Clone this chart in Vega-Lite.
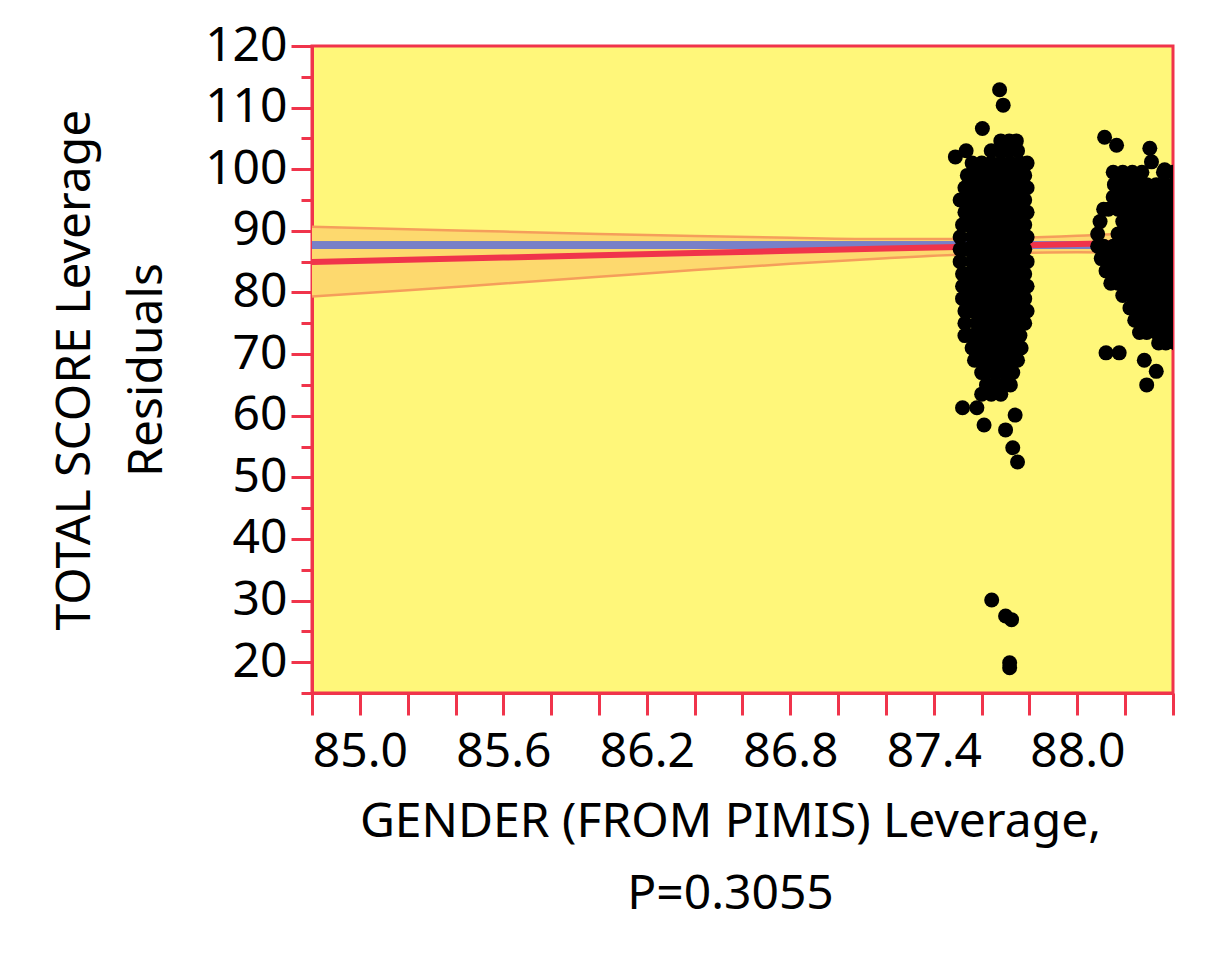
{
  "$schema": "https://vega.github.io/schema/vega-lite/v6.json",
  "width": 861,
  "height": 647,
  "autosize": {"type": "none"},
  "padding": {"left": 312, "top": 46, "right": 41, "bottom": 266},
  "background": "#ffffff",
  "datasets": {
    "band": [
      {"x": 84.8, "fit": 84.95, "lo": 79.35, "hi": 90.65},
      {"x": 85.2, "fit": 85.31, "lo": 80.36, "hi": 90.26},
      {"x": 85.6, "fit": 85.67, "lo": 81.46, "hi": 89.88},
      {"x": 86.0, "fit": 86.03, "lo": 82.55, "hi": 89.51},
      {"x": 86.4, "fit": 86.40, "lo": 83.63, "hi": 89.17},
      {"x": 86.8, "fit": 86.76, "lo": 84.65, "hi": 88.87},
      {"x": 87.2, "fit": 87.12, "lo": 85.57, "hi": 88.67},
      {"x": 87.5, "fit": 87.40, "lo": 86.13, "hi": 88.67},
      {"x": 87.7, "fit": 87.58, "lo": 86.37, "hi": 88.79},
      {"x": 88.0, "fit": 87.85, "lo": 86.51, "hi": 89.19},
      {"x": 88.4, "fit": 88.21, "lo": 86.40, "hi": 90.02}
    ],
    "pts": [
      {"x":87.675,"y":112.9},{"x":87.69,"y":110.4},{"x":87.603,"y":106.6},
      {"x":87.68,"y":104.6},{"x":87.715,"y":104.6},{"x":87.745,"y":104.6},
      {"x":87.535,"y":103},{"x":87.64,"y":103},{"x":87.675,"y":103},{"x":87.71,"y":103},{"x":87.75,"y":103},
      {"x":87.49,"y":102},
      {"x":87.56,"y":101},{"x":87.60,"y":101},{"x":87.64,"y":101},{"x":87.68,"y":101},{"x":87.72,"y":101},{"x":87.76,"y":101},{"x":87.79,"y":101},
      {"x":87.54,"y":99},{"x":87.58,"y":99},{"x":87.62,"y":99},{"x":87.66,"y":99},{"x":87.70,"y":99},{"x":87.74,"y":99},{"x":87.78,"y":99},
      {"x":87.53,"y":97},{"x":87.56,"y":97},{"x":87.60,"y":97},{"x":87.64,"y":97},{"x":87.68,"y":97},{"x":87.72,"y":97},{"x":87.76,"y":97},{"x":87.79,"y":97},
      {"x":87.51,"y":95},{"x":87.54,"y":95},{"x":87.58,"y":95},{"x":87.62,"y":95},{"x":87.66,"y":95},{"x":87.70,"y":95},{"x":87.74,"y":95},{"x":87.78,"y":95},
      {"x":87.53,"y":93},{"x":87.56,"y":93},{"x":87.60,"y":93},{"x":87.64,"y":93},{"x":87.68,"y":93},{"x":87.72,"y":93},{"x":87.76,"y":93},{"x":87.79,"y":93},
      {"x":87.52,"y":91},{"x":87.54,"y":91},{"x":87.58,"y":91},{"x":87.62,"y":91},{"x":87.66,"y":91},{"x":87.70,"y":91},{"x":87.74,"y":91},{"x":87.78,"y":91},
      {"x":87.51,"y":89},{"x":87.56,"y":89},{"x":87.60,"y":89},{"x":87.64,"y":89},{"x":87.68,"y":89},{"x":87.72,"y":89},{"x":87.76,"y":89},{"x":87.79,"y":89},
      {"x":87.51,"y":87},{"x":87.54,"y":87},{"x":87.58,"y":87},{"x":87.62,"y":87},{"x":87.66,"y":87},{"x":87.70,"y":87},{"x":87.74,"y":87},{"x":87.78,"y":87},
      {"x":87.51,"y":85},{"x":87.56,"y":85},{"x":87.60,"y":85},{"x":87.64,"y":85},{"x":87.68,"y":85},{"x":87.72,"y":85},{"x":87.76,"y":85},{"x":87.79,"y":85},
      {"x":87.52,"y":83},{"x":87.54,"y":83},{"x":87.58,"y":83},{"x":87.62,"y":83},{"x":87.66,"y":83},{"x":87.70,"y":83},{"x":87.74,"y":83},{"x":87.78,"y":83},
      {"x":87.52,"y":81},{"x":87.56,"y":81},{"x":87.60,"y":81},{"x":87.64,"y":81},{"x":87.68,"y":81},{"x":87.72,"y":81},{"x":87.76,"y":81},{"x":87.79,"y":81},
      {"x":87.52,"y":79},{"x":87.54,"y":79},{"x":87.58,"y":79},{"x":87.62,"y":79},{"x":87.66,"y":79},{"x":87.70,"y":79},{"x":87.74,"y":79},{"x":87.78,"y":79},
      {"x":87.53,"y":77},{"x":87.56,"y":77},{"x":87.60,"y":77},{"x":87.64,"y":77},{"x":87.68,"y":77},{"x":87.72,"y":77},{"x":87.76,"y":77},{"x":87.79,"y":77},
      {"x":87.53,"y":75},{"x":87.58,"y":75},{"x":87.62,"y":75},{"x":87.66,"y":75},{"x":87.70,"y":75},{"x":87.74,"y":75},{"x":87.78,"y":75},
      {"x":87.53,"y":73},{"x":87.56,"y":73},{"x":87.60,"y":73},{"x":87.64,"y":73},{"x":87.68,"y":73},{"x":87.72,"y":73},{"x":87.76,"y":73},
      {"x":87.56,"y":71},{"x":87.58,"y":71},{"x":87.62,"y":71},{"x":87.66,"y":71},{"x":87.70,"y":71},{"x":87.74,"y":71},{"x":87.765,"y":71},
      {"x":87.57,"y":69},{"x":87.60,"y":69},{"x":87.64,"y":69},{"x":87.68,"y":69},{"x":87.72,"y":69},{"x":87.75,"y":69},
      {"x":87.60,"y":67},{"x":87.62,"y":67},{"x":87.66,"y":67},{"x":87.70,"y":67},{"x":87.73,"y":67},
      {"x":87.62,"y":65},{"x":87.65,"y":65},{"x":87.69,"y":65},{"x":87.72,"y":65},
      {"x":87.60,"y":63.5},{"x":87.64,"y":63.5},{"x":87.68,"y":63.5},
      {"x":87.52,"y":61.3},{"x":87.58,"y":61.3},
      {"x":87.74,"y":60.1},{"x":87.61,"y":58.5},{"x":87.70,"y":57.7},{"x":87.73,"y":54.8},{"x":87.75,"y":52.5},
      {"x":87.642,"y":30.1},{"x":87.70,"y":27.5},{"x":87.725,"y":26.9},{"x":87.717,"y":19.9},{"x":87.717,"y":19.1},
      {"x":88.114,"y":105.2},{"x":88.164,"y":103.9},{"x":88.303,"y":103.4},{"x":88.31,"y":101.2},{"x":88.365,"y":99.9},
      {"x":88.15,"y":99.5},{"x":88.19,"y":99.5},{"x":88.23,"y":99.5},{"x":88.27,"y":99.5},{"x":88.36,"y":99.5},{"x":88.40,"y":99.5},
      {"x":88.155,"y":97.5},{"x":88.17,"y":97.5},{"x":88.21,"y":97.5},{"x":88.25,"y":97.5},{"x":88.29,"y":97.5},{"x":88.33,"y":97.5},{"x":88.37,"y":97.5},{"x":88.41,"y":97.5},
      {"x":88.15,"y":95.5},{"x":88.19,"y":95.5},{"x":88.23,"y":95.5},{"x":88.27,"y":95.5},{"x":88.31,"y":95.5},{"x":88.35,"y":95.5},{"x":88.39,"y":95.5},{"x":88.43,"y":95.5},
      {"x":88.11,"y":93.5},{"x":88.13,"y":93.5},{"x":88.17,"y":93.5},{"x":88.21,"y":93.5},{"x":88.25,"y":93.5},{"x":88.29,"y":93.5},{"x":88.33,"y":93.5},{"x":88.37,"y":93.5},{"x":88.41,"y":93.5},
      {"x":88.095,"y":91.5},{"x":88.19,"y":91.5},{"x":88.23,"y":91.5},{"x":88.27,"y":91.5},{"x":88.31,"y":91.5},{"x":88.35,"y":91.5},{"x":88.39,"y":91.5},{"x":88.43,"y":91.5},
      {"x":88.085,"y":89.5},{"x":88.17,"y":89.5},{"x":88.21,"y":89.5},{"x":88.25,"y":89.5},{"x":88.29,"y":89.5},{"x":88.33,"y":89.5},{"x":88.37,"y":89.5},{"x":88.41,"y":89.5},
      {"x":88.085,"y":87.5},{"x":88.11,"y":87.5},{"x":88.15,"y":87.5},{"x":88.19,"y":87.5},{"x":88.23,"y":87.5},{"x":88.27,"y":87.5},{"x":88.31,"y":87.5},{"x":88.35,"y":87.5},{"x":88.39,"y":87.5},{"x":88.43,"y":87.5},
      {"x":88.10,"y":85.5},{"x":88.13,"y":85.5},{"x":88.17,"y":85.5},{"x":88.21,"y":85.5},{"x":88.25,"y":85.5},{"x":88.29,"y":85.5},{"x":88.33,"y":85.5},{"x":88.37,"y":85.5},{"x":88.41,"y":85.5},
      {"x":88.12,"y":83.5},{"x":88.15,"y":83.5},{"x":88.19,"y":83.5},{"x":88.23,"y":83.5},{"x":88.27,"y":83.5},{"x":88.31,"y":83.5},{"x":88.35,"y":83.5},{"x":88.39,"y":83.5},{"x":88.43,"y":83.5},
      {"x":88.14,"y":81.5},{"x":88.17,"y":81.5},{"x":88.21,"y":81.5},{"x":88.25,"y":81.5},{"x":88.29,"y":81.5},{"x":88.33,"y":81.5},{"x":88.37,"y":81.5},{"x":88.41,"y":81.5},
      {"x":88.19,"y":79.5},{"x":88.23,"y":79.5},{"x":88.27,"y":79.5},{"x":88.31,"y":79.5},{"x":88.35,"y":79.5},{"x":88.39,"y":79.5},{"x":88.43,"y":79.5},
      {"x":88.22,"y":77.5},{"x":88.25,"y":77.5},{"x":88.29,"y":77.5},{"x":88.33,"y":77.5},{"x":88.37,"y":77.5},{"x":88.41,"y":77.5},
      {"x":88.24,"y":75.5},{"x":88.27,"y":75.5},{"x":88.31,"y":75.5},{"x":88.35,"y":75.5},{"x":88.39,"y":75.5},{"x":88.43,"y":75.5},
      {"x":88.26,"y":73.5},{"x":88.29,"y":73.5},{"x":88.33,"y":73.5},{"x":88.37,"y":73.5},{"x":88.41,"y":73.5},
      {"x":88.34,"y":71.8},{"x":88.37,"y":71.8},{"x":88.41,"y":71.8},
      {"x":88.12,"y":70.2},{"x":88.175,"y":70.2},
      {"x":88.28,"y":69},{"x":88.33,"y":67.2},{"x":88.29,"y":65}
    ]
  },
  "resolve": {"axis": {"y": "independent"}},
  "layer": [
    {
      "data": {"name": "band"},
      "mark": {"type": "area", "color": "#fdd96e", "interpolate": "monotone"},
      "encoding": {
        "x": {
          "field": "x", "type": "quantitative",
          "scale": {"domain": [84.8, 88.4], "nice": false, "zero": false},
          "axis": {
            "title": ["GENDER (FROM PIMIS) Leverage,", "P=0.3055"],
            "values": [84.8,84.9,85.0,85.1,85.2,85.3,85.4,85.5,85.6,85.7,85.8,85.9,86.0,86.1,86.2,86.3,86.4,86.5,86.6,86.7,86.8,86.9,87.0,87.1,87.2,87.3,87.4,87.5,87.6,87.7,87.8,87.9,88.0,88.1,88.2,88.3,88.4],
            "labelExpr": "round(datum.value*10) % 6 == 4 ? format(datum.value, '.1f') : ''",
            "tickSize": {"condition": {"test": "round(datum.value*10) % 2 == 0", "value": 22}, "value": 12},
            "labelPadding": 13,
            "titlePadding": 22,
            "titleX": 418,
            "titleLineHeight": 72
          }
        },
        "y": {
          "field": "lo", "type": "quantitative",
          "scale": {"domain": [15, 120], "nice": false, "zero": false},
          "axis": {
            "title": ["TOTAL SCORE Leverage", "Residuals"],
            "orient": "left",
            "values": [20,30,40,50,60,70,80,90,100,110,120],
            "format": "d",
            "tickSize": 21,
            "labelPadding": 4,
            "titlePadding": 33,
            "titleLineHeight": 72
          }
        },
        "y2": {"field": "hi"}
      }
    },
    {
      "data": {"name": "band"},
      "mark": {"type": "line", "color": "#f59e5b", "strokeWidth": 2.5, "interpolate": "monotone"},
      "encoding": {
        "x": {"field": "x", "type": "quantitative"},
        "y": {"field": "lo", "type": "quantitative", "axis": null}
      }
    },
    {
      "data": {"name": "band"},
      "mark": {"type": "line", "color": "#f59e5b", "strokeWidth": 2.5, "interpolate": "monotone"},
      "encoding": {
        "x": {"field": "x", "type": "quantitative"},
        "y": {"field": "hi", "type": "quantitative", "axis": null}
      }
    },
    {
      "data": {"name": "band"},
      "mark": {"type": "rule", "color": "#7880c8", "strokeWidth": 7},
      "encoding": {
        "y": {"datum": 87.65, "type": "quantitative", "axis": null}
      }
    },
    {
      "data": {"name": "band"},
      "mark": {"type": "line", "color": "#f0344b", "strokeWidth": 6},
      "encoding": {
        "x": {"field": "x", "type": "quantitative"},
        "y": {"field": "fit", "type": "quantitative", "axis": null}
      }
    },
    {
      "data": {"name": "pts"},
      "mark": {"type": "circle", "color": "#000000", "opacity": 1, "size": 225, "clip": true},
      "encoding": {
        "x": {"field": "x", "type": "quantitative"},
        "y": {
          "field": "y", "type": "quantitative",
          "axis": {
            "orient": "left",
            "title": null,
            "values": [15,25,35,45,55,65,75,85,95,105,115],
            "tickSize": 11,
            "labels": false,
            "domain": false
          }
        }
      }
    }
  ],
  "config": {
    "view": {"fill": "#fff77a", "stroke": "#f0344b", "strokeWidth": 3},
    "axis": {
      "domainColor": "#f0344b", "domainWidth": 3,
      "tickColor": "#f0344b", "tickWidth": 3,
      "labelFont": "Noto Sans", "labelFontSize": 48, "labelColor": "#000000",
      "titleFont": "Noto Sans", "titleFontSize": 48, "titleFontWeight": "normal", "titleColor": "#000000",
      "grid": false, "labelOverlap": false, "labelFlush": false, "labelBound": false
    }
  }
}
